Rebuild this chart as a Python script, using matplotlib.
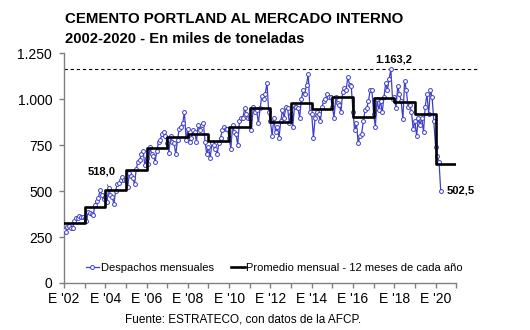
import matplotlib
matplotlib.use("Agg")
import matplotlib.pyplot as plt
import numpy as np
from matplotlib.lines import Line2D

plt.rcParams['font.family'] = ['Liberation Sans', 'DejaVu Sans']

# ---- data (thousand tonnes) ----
years = list(range(2002, 2021))
monthly = [
    # 2002
    290, 275, 305, 310, 300, 300, 340, 355, 355, 365, 360, 360,
    # 2003
    355, 335, 385, 380, 375, 370, 425, 445, 465, 505, 480, 455,
    # 2004
    470, 440, 518, 480, 470, 430, 500, 540, 545, 560, 575, 560,
    # 2005
    560, 520, 600, 580, 570, 540, 620, 660, 670, 700, 720, 640,
    # 2006
    680, 650, 740, 700, 690, 660, 720, 770, 780, 810, 820, 800,
    # 2007
    760, 710, 800, 770, 760, 700, 780, 840, 850, 870, 930, 780,
    # 2008
    840, 770, 790, 830, 820, 770, 860, 830, 860, 870, 770, 700,
    # 2009
    740, 680, 760, 750, 730, 700, 760, 790, 830, 850, 840, 840,
    # 2010
    790, 730, 860, 820, 810, 750, 880, 900, 900, 950, 920, 900,
    # 2011
    900, 830, 960, 930, 940, 870, 950, 1020, 1000, 1030, 1090, 930,
    # 2012
    880, 800, 900, 820, 850, 790, 880, 940, 900, 960, 950, 870,
    # 2013
    920, 850, 960, 960, 950, 900, 1000, 1050, 1030, 1080, 1140, 930,
    # 2014
    920, 790, 900, 930, 920, 880, 960, 990, 1000, 1030, 1010, 1010,
    # 2015
    960, 900, 1010, 980, 970, 930, 1040, 1060, 1050, 1120, 1080, 1070,
    # 2016
    930, 830, 870, 760, 800, 810, 880, 940, 950, 990, 1050, 1050,
    # 2017
    920, 850, 1000, 940, 990, 930, 1010, 1090, 1050, 1110, 1163.2, 1000,
    # 2018
    1010, 950, 1070, 1030, 990, 890, 1100, 1050, 960, 970, 930, 840,
    # 2019
    880, 800, 900, 860, 900, 820, 960, 1030, 920, 1050, 1010, 880,
    # 2020
    742, 690, 660, 502.5,
]
annual_avg = [328, 415, 506, 615, 736, 796, 809, 773, 851, 954,
              878, 981, 945, 1014, 905, 1005, 983, 919, 648]
max_value = 1163.2
last_value = 502.5
marked_value = 518.0

ytick_vals = [0, 250, 500, 750, 1000, 1250]
ytick_labels = ['0', '250', '500', '750', '1.000', '1.250']
xlabel_years = list(range(2002, 2021, 2))
xtick_labels = ["E '%02d" % (y % 100) for y in xlabel_years]

# ---- figure ----
fig = plt.figure(figsize=(5.3, 3.3), dpi=100)
ax = fig.add_axes([64/530, 1-283/330, (456.2-64)/530, (283-53.3)/330])

x_month = 2002 + np.arange(len(monthly)) / 12.0
blue = '#3f3fcc'
ax.plot(x_month, monthly, color=blue, lw=0.9, marker='o', ms=2.8,
        mfc='white', mec=blue, mew=0.7, zorder=3)

step_x = years + [years[-1] + 1]
step_y = annual_avg + [annual_avg[-1]]
ax.step(step_x, step_y, where='post', color='black', lw=1.9, zorder=4)

# dashed line at maximum
ax.plot([2002, 2022.05], [max_value, max_value], color='black', lw=0.8,
        ls=(0, (3, 2.5)), clip_on=False, zorder=2)

ax.set_xlim(2002, 2021)
ax.set_ylim(0, 1250)

ax.set_yticks(ytick_vals)
ax.set_yticklabels(ytick_labels)
ax.set_xticks(range(2002, 2022), minor=True)
ax.set_xticks(xlabel_years)
ax.set_xticklabels(xtick_labels)

for s in ['top', 'right']:
    ax.spines[s].set_visible(False)
for s in ['left', 'bottom']:
    ax.spines[s].set_color('#808080')
    ax.spines[s].set_linewidth(1.0)
ax.tick_params(axis='both', which='both', direction='out', color='#808080',
               width=1.0, length=3.5, labelsize=10, labelcolor='black')
ax.tick_params(axis='y', pad=5)
ax.tick_params(axis='x', pad=3)

# annotations
idx_max = monthly.index(max_value)
ax.text(x_month[idx_max] + 0.15, max_value + 25, '1.163,2', fontsize=8,
        fontweight='bold', ha='center', va='bottom')
ax.text(x_month[-1] + 0.3, last_value, '502,5', fontsize=8,
        fontweight='bold', ha='left', va='center')
idx_m = monthly.index(marked_value)
ax.annotate('518,0', xy=(x_month[idx_m], marked_value),
            xytext=(2003.83, 605), fontsize=8, fontweight='bold',
            ha='center', va='center',
            arrowprops=dict(arrowstyle='-', color='#404040', lw=0.6,
                            shrinkA=4, shrinkB=1))

# legend
h1 = Line2D([], [], color=blue, lw=0.9, marker='o', ms=2.8, mfc='white',
            mec=blue, mew=0.7)
h2 = Line2D([], [], color='black', lw=1.9)
leg = ax.legend([h1, h2], ['Despachos mensuales',
                           'Promedio mensual - 12 meses de cada año'],
                loc='center left', bbox_to_anchor=(0.055, 0.066), ncol=2,
                frameon=False, fontsize=8, handlelength=1.2,
                handletextpad=0.15, columnspacing=1.6, borderpad=0,
                borderaxespad=0)

# titles
fig.text(65/530, 1-23/330, 'CEMENTO PORTLAND AL MERCADO INTERNO',
         fontsize=10.8, fontweight='bold', ha='left', va='baseline')
fig.text(65/530, 1-43/330, '2002-2020 - En miles de toneladas',
         fontsize=10.6, fontweight='bold', ha='left', va='baseline')
fig.text(243/530, 1-323/330, 'Fuente: ESTRATECO, con datos de la AFCP.',
         fontsize=8.5, ha='center', va='baseline')

fig.savefig('out.png', dpi=100)
